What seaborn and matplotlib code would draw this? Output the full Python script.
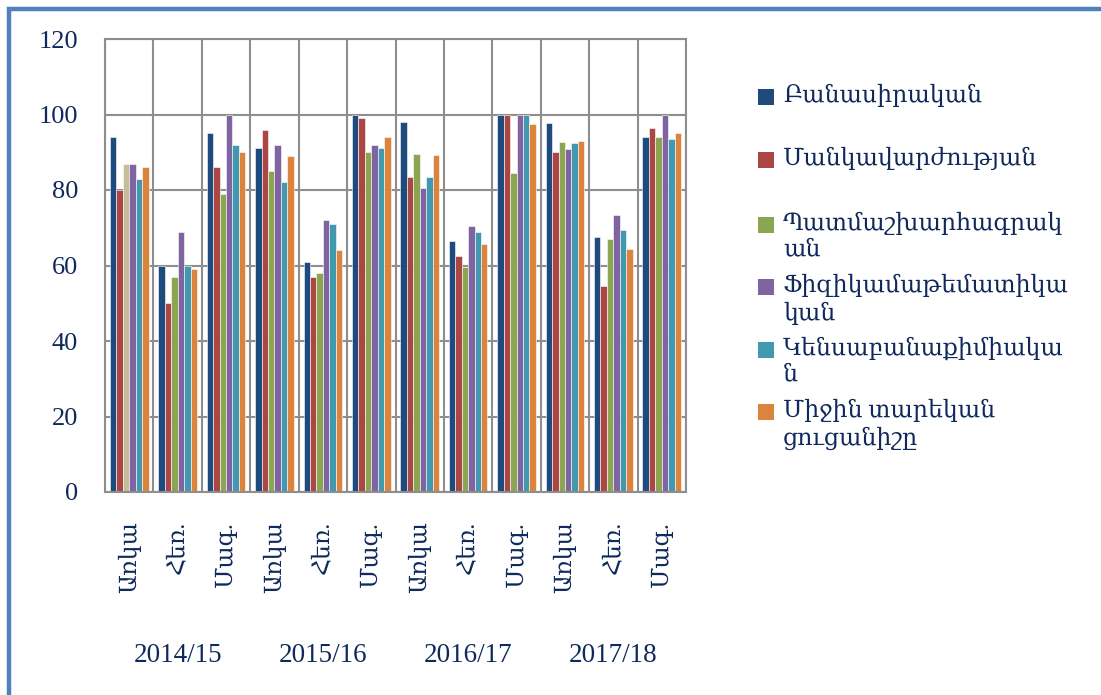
import numpy as np
import pandas as pd
import matplotlib
matplotlib.use('Agg')
import matplotlib.pyplot as plt
import seaborn as sns
from matplotlib.patches import Rectangle
from matplotlib.lines import Line2D
import matplotlib.transforms as mtransforms

# ---------------- data ----------------
years = ['2014/15', '2015/16', '2016/17', '2017/18']
forms = ['Առկա', 'Հեռ.', 'Մագ.']
series = ['Բանասիրական', 'Մանկավարժության', 'Պատմաշխարհագրական',
          'Ֆիզիկամաթեմատիկական', 'Կենսաբանաքիմիական', 'Միջին տարեկան ցուցանիշը']
legend_labels = ['Բանասիրական', 'Մանկավարժության', 'Պատմաշխարհագրակ\nան',
                 'Ֆիզիկամաթեմատիկա\nկան', 'Կենսաբանաքիմիակա\nն', 'Միջին տարեկան\nցուցանիշը']
banasirakan = [94, 60, 95, 91, 61, 100, 98, 66.5, 100, 97.7, 67.5, 94]
mankavarzh = [80, 50, 86, 96, 57, 99, 83.5, 62.6, 100, 90.1, 54.5, 96.5]
patmashkh = [87, 57, 79, 85, 58, 90, 89.6, 59.5, 84.6, 92.8, 66.9, 94]
fizmat = [87, 69, 100, 92, 72, 92, 80.5, 70.5, 100, 90.8, 73.4, 100]
kensab = [83, 60, 92, 82, 71, 91, 83.5, 68.9, 100, 92.5, 69.4, 93.6]
mijin = [86, 59, 90, 89, 64, 94, 89.4, 65.8, 97.6, 92.9, 64.4, 95.1]
yticks = [0, 20, 40, 60, 80, 100, 120]

values = [banasirakan, mankavarzh, patmashkh, fizmat, kensab, mijin]
colors = ['#1F4A7E', '#AA4643', '#8CA550', '#8064A2', '#4198AF', '#DB843D']
special_color = '#C4BD97'   # first green bar in reference is beige
text_color = '#10295C'
grid_color = '#8E8E8E'

cats = [f'{y} {f}' for y in years for f in forms]
rows = []
for s, vals in zip(series, values):
    for c, v in zip(cats, vals):
        rows.append({'cat': c, 'val': v, 'series': s})
df = pd.DataFrame(rows)

# ---------------- figure ----------------
sns.set_style('white')
plt.rcParams['font.family'] = ['Liberation Serif', 'DejaVu Serif', 'DejaVu Sans']

W, H = 1101, 695
fig = plt.figure(figsize=(W / 100, H / 100), dpi=100)
L, R, T, B = 105, 686, 39, 492
ax = fig.add_axes([L / W, 1 - B / H, (R - L) / W, (B - T) / H])

sns.barplot(data=df, x='cat', y='val', hue='series', order=cats, hue_order=series,
            palette=colors, width=0.8, saturation=1, ax=ax, legend=False,
            edgecolor='white', linewidth=0.4, errorbar=None)
ax.containers[2][0].set_facecolor(special_color)

ax.set_xlim(-0.5, len(cats) - 0.5)
ax.set_ylim(0, 120)
ax.set_xlabel('')
ax.set_ylabel('')
ax.set_axisbelow(True)

px = 72 / 100  # points per pixel
group_bounds = [-0.5 + 3 * i for i in range(len(years) + 1)]
inner_bounds = [b + k for b in group_bounds[:-1] for k in (1, 2)]
ax.set_xticks(group_bounds)
ax.set_xticks(inner_bounds, minor=True)
ax.set_xticklabels([])
ax.tick_params(axis='x', which='major', direction='out', length=(686 - B) * px,
               width=1.5, color=grid_color, labelbottom=False)
ax.tick_params(axis='x', which='minor', direction='out', length=(608 - B) * px,
               width=1.5, color=grid_color, labelbottom=False)
ax.set_yticks(yticks)
ax.tick_params(axis='y', which='major', direction='out', length=9 * px, width=1.5,
               color=grid_color, labelsize=19, labelcolor=text_color, pad=13)
ax.grid(axis='x', which='both', color=grid_color, linewidth=1.5)
ax.grid(axis='y', which='major', color=grid_color, linewidth=1.5)
for sp in ax.spines.values():
    sp.set_color(grid_color)
    sp.set_linewidth(1.5)

trans = mtransforms.blended_transform_factory(ax.transData, ax.transAxes)
hpx = B - T
for i, c in enumerate(cats):
    ax.text(i, (B - 521) / hpx, forms[i % 3],
            rotation=90, ha='center', va='top', transform=trans,
            fontsize=17, color=text_color)
for g, y in enumerate(years):
    ax.text(3 * g + 1, (B - 655) / hpx, y, ha='center', va='center', transform=trans,
            fontsize=19.5, color=text_color)

# ---------------- legend ----------------
leg_y = [97, 160, 225, 287, 350, 412]
for lab, col, yc in zip(legend_labels, colors, leg_y):
    fig.patches.append(Rectangle((758 / W, 1 - (yc + 8) / H), 16 / W, 16 / H,
                                 transform=fig.transFigure, facecolor=col,
                                 edgecolor='none'))
    fig.text(783 / W, 1 - (yc - 13) / H, lab, ha='left', va='top', fontsize=17,
             color=text_color, linespacing=1.25)

# ---------------- border ----------------
fig.add_artist(Line2D([9 / W, 9 / W, 1], [0, 1 - 9 / H, 1 - 9 / H],
                      transform=fig.transFigure, color='#4F81BD', linewidth=3.2,
                      solid_joinstyle='miter'))

fig.savefig('out.png', dpi=100)
